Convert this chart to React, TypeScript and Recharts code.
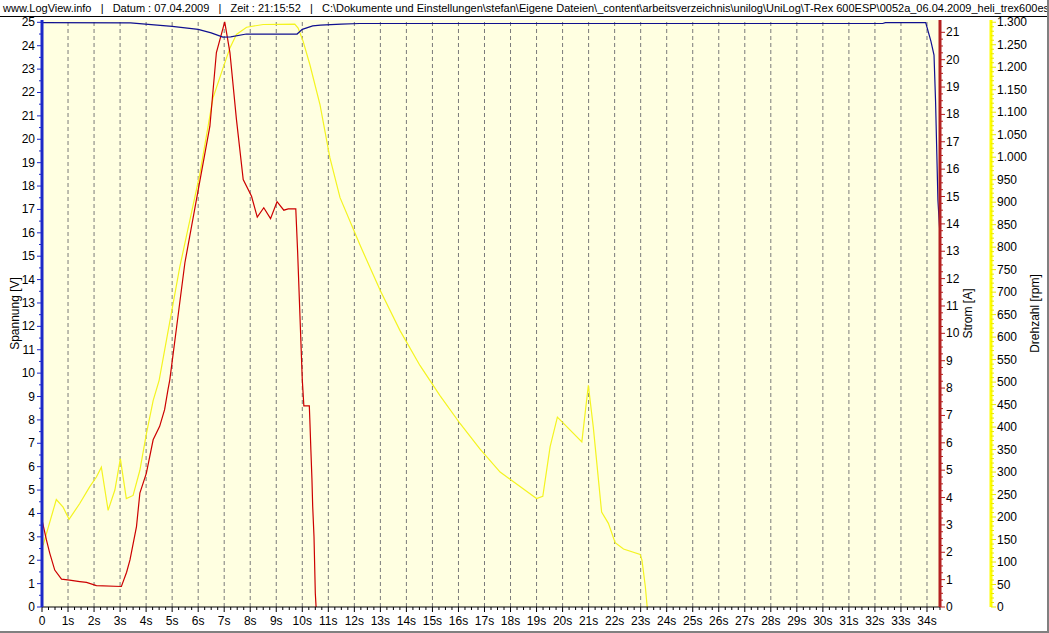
import React from "react";
import { CartesianGrid, Line, LineChart, ReferenceLine, XAxis, YAxis } from "recharts";

const secondTicks = [0, 1, 2, 3, 4, 5, 6, 7, 8, 9, 10, 11, 12, 13, 14, 15, 16, 17, 18, 19, 20, 21, 22, 23, 24, 25, 26, 27, 28, 29, 30, 31, 32, 33, 34];

// Spannung [V]
const voltTime = [0, 3.4, 5.0, 6.0, 6.5, 6.95, 7.25, 7.85, 9.8, 10.0, 10.4, 10.7, 11.5, 12.2, 32.3, 32.4, 33.95, 34.15, 34.27, 34.33, 34.42, 34.5];
const voltValues = [24.99, 24.98, 24.83, 24.7, 24.55, 24.37, 24.38, 24.5, 24.5, 24.7, 24.85, 24.88, 24.92, 24.95, 24.95, 24.99, 24.99, 24.2, 23.6, 21.6, 17.4, 15.9];

// Strom [A]
const ampTime = [0, 0.17, 0.3, 0.49, 0.75, 1.06, 1.45, 1.71, 2.09, 3.05, 3.25, 3.38, 3.63, 3.76, 4.01, 4.27, 4.52, 4.71, 4.84, 4.91, 5.49, 6.45, 6.7, 7.02, 7.22, 7.47, 7.73, 8.05, 8.27, 8.52, 8.78, 9.03, 9.29, 9.46, 9.75, 9.82, 10.0, 10.06, 10.27, 10.29, 10.33, 10.37, 10.4, 10.45, 10.5, 10.53];
const ampValues = [3.18, 2.45, 1.96, 1.35, 1.02, 0.98, 0.93, 0.9, 0.78, 0.75, 1.27, 1.72, 2.94, 4.16, 4.89, 6.11, 6.6, 7.21, 7.94, 8.3, 12.58, 17.57, 20.26, 21.38, 20.26, 17.82, 15.62, 15.01, 14.25, 14.59, 14.19, 14.81, 14.5, 14.55, 14.55, 13.0, 8.3, 7.35, 7.35, 6.84, 5.74, 4.7, 3.67, 2.57, 0.5, 0];

// Drehzahl [rpm]
const rpmTime = [0.04, 0.55, 0.81, 1.04, 1.45, 1.83, 2.09, 2.28, 2.54, 2.8, 3.01, 3.24, 3.5, 3.76, 4.01, 4.27, 4.5, 5.29, 6.06, 6.57, 6.96, 7.22, 7.47, 7.86, 8.5, 9.71, 9.84, 10.03, 10.29, 10.68, 11.06, 11.45, 12.23, 13.0, 13.75, 14.52, 15.29, 16.06, 16.83, 17.6, 19.0, 19.24, 19.52, 19.8, 20.74, 20.99, 21.18, 21.5, 21.76, 22.02, 22.34, 22.98, 23.05, 23.18, 23.25];
const rpmValues = [137, 239, 222, 195, 230, 267, 289, 311, 215, 260, 330, 241, 248, 304, 385, 459, 504, 755, 962, 1132, 1199, 1243, 1273, 1289, 1295, 1296, 1287, 1258, 1206, 1117, 999, 910, 803, 703, 615, 537, 470, 408, 351, 300, 241, 246, 356, 422, 367, 493, 400, 211, 186, 143, 129, 117, 104, 45, 0];

const font = "'Liberation Sans', Arial, sans-serif";
const header =
  "www.LogView.info   |   Datum : 07.04.2009   |   Zeit : 21:15:52   |   C:\\Dokumente und Einstellungen\\stefan\\Eigene Dateien\\_content\\arbeitsverzeichnis\\unilog\\UniLog\\T-Rex 600ESP\\0052a_06.04.2009_heli_trex600esp_65.log";

const toPoints = (ts: number[], vs: number[]) => ts.map((t, i) => ({ t, v: vs[i] }));

// minor tick positions between the labelled ones
const steps = (max: number, step: number) => {
  const out: number[] = [];
  for (let i = 0; i * step <= max + 1e-9; i++) out.push(Math.round(i * step * 1000) / 1000);
  return out;
};
const isMajor = (v: number, every: number) => Math.abs(v / every - Math.round(v / every)) < 1e-6;

const fmtRpm = (v: number) =>
  v >= 1000 ? `${Math.floor(v / 1000)}.${String(v % 1000).padStart(3, "0")}` : String(v);

function XTick({ x, y, payload }: any) {
  const major = isMajor(payload.value, 1);
  return (
    <g>
      <line x1={x} x2={x} y1={y} y2={y + (major ? 5 : 3)} stroke="#000" />
      {major && (
        <text x={x} y={y + 18} textAnchor="middle" fontSize={12} fontFamily={font} fill="#000">
          {payload.value === 0 ? "0" : `${payload.value}s`}
        </text>
      )}
    </g>
  );
}

function LeftTick({ x, y, payload, color }: any) {
  const major = isMajor(payload.value, 1);
  return (
    <g>
      <line x1={x - (major ? 5 : 3)} x2={x} y1={y} y2={y} stroke={color} />
      {major && (
        <text x={x - 7} y={y + 4} textAnchor="end" fontSize={12} fontFamily={font} fill="#000">
          {payload.value}
        </text>
      )}
    </g>
  );
}

function RightTick({ x, y, payload, color, every, fmt }: any) {
  const major = isMajor(payload.value, every);
  return (
    <g>
      <line x1={x} x2={x + (major ? 5 : 3)} y1={y} y2={y} stroke={color} />
      {major && (
        <text x={x + 6} y={y + 4} textAnchor="start" fontSize={12} fontFamily={font} fill="#000">
          {fmt ? fmt(payload.value) : payload.value}
        </text>
      )}
    </g>
  );
}

function AxisTitle({ viewBox, value, dx }: any) {
  if (!viewBox) return null;
  const cx = viewBox.x + dx;
  const cy = viewBox.y + viewBox.height / 2;
  return (
    <text
      x={cx}
      y={cy}
      transform={`rotate(-90 ${cx} ${cy})`}
      textAnchor="middle"
      dominantBaseline="central"
      fontSize={12}
      fontFamily={font}
      fill="#000"
    >
      {value}
    </text>
  );
}

export default function App() {
  return (
    <div
      style={{
        position: "absolute",
        left: 0,
        top: 0,
        width: 1047,
        height: 631,
        background: "#fff",
        borderRight: "2px solid #808080",
        borderBottom: "2px solid #808080",
        overflow: "hidden",
      }}
    >
      <div
        style={{
          position: "absolute",
          left: 0,
          top: 0,
          width: 1049,
          height: 16,
          borderBottom: "1px solid #000",
          fontFamily: font,
          fontSize: 11,
          lineHeight: "16px",
          paddingLeft: 3,
          whiteSpace: "pre",
          overflow: "hidden",
          color: "#000",
        }}
      >
        {header}
      </div>
      <LineChart width={1049} height={633} margin={{ top: 20, right: 0, bottom: 0, left: 0 }}>
        <CartesianGrid yAxisId="v" horizontal={false} vertical={false} fill="#ffffe1" fillOpacity={1} />
        <XAxis
          dataKey="t"
          type="number"
          domain={[0, 34.5]}
          ticks={steps(34.5, 0.25)}
          interval={0}
          tickSize={0}
          tickMargin={0}
          tickLine={false}
          tick={<XTick />}
          axisLine={{ stroke: "#000" }}
          height={26}
          allowDataOverflow
        />
        <YAxis
          yAxisId="v"
          orientation="left"
          domain={[0, 25.1]}
          ticks={steps(25, 0.5)}
          interval={0}
          width={42}
          tickSize={0}
          tickMargin={0}
          tickLine={false}
          tick={<LeftTick color="#1c28c8" />}
          axisLine={{ stroke: "#1c28c8", strokeWidth: 3 }}
          allowDataOverflow
          label={<AxisTitle value="Spannung [V]" dx={15} />}
        />
        <YAxis
          yAxisId="a"
          orientation="right"
          domain={[0, 21.45]}
          ticks={steps(21, 0.25)}
          interval={0}
          width={51}
          tickSize={0}
          tickMargin={0}
          tickLine={false}
          tick={<RightTick color="#b42020" every={1} />}
          axisLine={{ stroke: "#b42020", strokeWidth: 3 }}
          allowDataOverflow
          label={<AxisTitle value="Strom [A]" dx={28} />}
        />
        <YAxis
          yAxisId="r"
          orientation="right"
          domain={[0, 1305]}
          ticks={steps(1300, 10)}
          interval={0}
          width={58}
          tickSize={0}
          tickMargin={0}
          tickLine={false}
          tick={<RightTick color="#e8e800" every={50} fmt={fmtRpm} />}
          axisLine={{ stroke: "#ffff00", strokeWidth: 3 }}
          allowDataOverflow
          label={<AxisTitle value="Drehzahl [rpm]" dx={44} />}
        />
        {secondTicks.slice(1).map((s) => (
          <ReferenceLine key={s} x={s} yAxisId="v" stroke="#7a7a7a" strokeDasharray="4 3" />
        ))}
        <Line
          yAxisId="r"
          data={toPoints(rpmTime, rpmValues)}
          dataKey="v"
          type="linear"
          stroke="#f4f420"
          strokeWidth={1.2}
          dot={false}
          isAnimationActive={false}
        />
        <Line
          yAxisId="a"
          data={toPoints(ampTime, ampValues)}
          dataKey="v"
          type="linear"
          stroke="#cc0000"
          strokeWidth={1.2}
          dot={false}
          isAnimationActive={false}
        />
        <Line
          yAxisId="v"
          data={toPoints(voltTime, voltValues)}
          dataKey="v"
          type="linear"
          stroke="#101090"
          strokeWidth={1.2}
          dot={false}
          isAnimationActive={false}
        />
      </LineChart>
    </div>
  );
}
